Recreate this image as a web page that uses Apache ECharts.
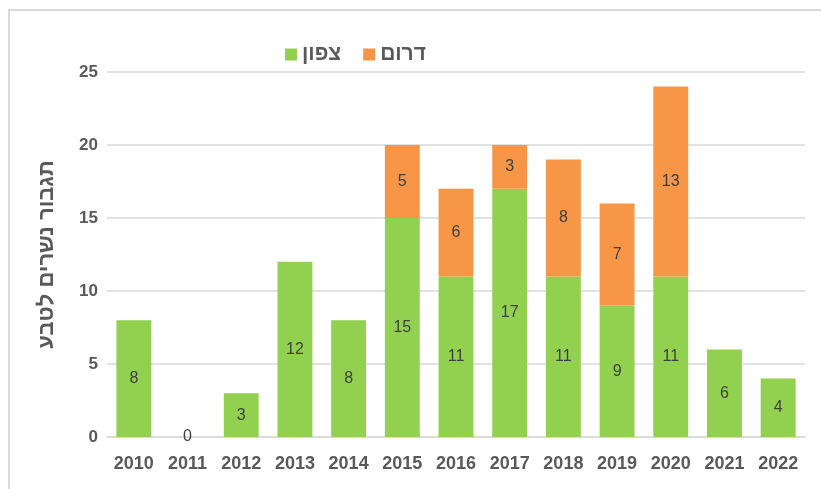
<!DOCTYPE html>
<html>
<head>
<meta charset="utf-8">
<script src="https://cdn.jsdelivr.net/npm/echarts@6/dist/echarts.min.js"></script>
<style>
  html, body { margin: 0; padding: 0; background: #fff; }
  #frame { position: absolute; left: 8px; top: 9px; width: 813px; height: 480px;
           border-top: 2px solid #d9d9d9; border-left: 2px solid #d9d9d9; }
  #chart { position: absolute; left: 0; top: 0; width: 821px; height: 489px; }
</style>
</head>
<body>
<div id="frame"></div>
<div id="chart"></div>
<script>
var years = ["2010", "2011", "2012", "2013", "2014", "2015", "2016", "2017", "2018", "2019", "2020", "2021", "2022"];
var north = [8, 0, 3, 12, 8, 15, 11, 17, 11, 9, 11, 6, 4];
var south = [null, null, null, null, null, 5, 6, 3, 8, 7, 13, null, null];

var myChart = echarts.init(document.getElementById("chart"));
var font = "'Liberation Sans', Arial, sans-serif";

var labelStyle = {
  show: true,
  position: "inside",
  color: "#404040",
  fontSize: 16,
  fontFamily: font,
};

var option = {
  animation: false,
  legend: {
    top: 39,
    left: 280,
    icon: "rect",
    itemWidth: 12,
    itemHeight: 12,
    itemGap: 22,
    textStyle: { color: "#595959", fontSize: 21, fontWeight: "bold", fontFamily: font },
    data: ["צפון", "דרום"],
  },
  grid: { left: 107, right: 16, top: 72, bottom: 52 },
  xAxis: {
    type: "category",
    data: years,
    axisTick: { show: false },
    axisLine: { lineStyle: { color: "#d9d9d9", width: 1.5 } },
    axisLabel: { color: "#595959", fontSize: 18, fontWeight: "bold", fontFamily: font, margin: 18 },
  },
  yAxis: {
    type: "value",
    min: 0,
    max: 25,
    interval: 5,
    name: "תגבור נשרים לטבע",
    nameLocation: "middle",
    nameGap: 49,
    nameTextStyle: { color: "#595959", fontSize: 22, fontWeight: "bold", fontFamily: font },
    axisLabel: { color: "#595959", fontSize: 17, fontWeight: "bold", fontFamily: font, margin: 9 },
    splitLine: { lineStyle: { color: "#d9d9d9", width: 1.5 } },
  },
  series: [
    {
      name: "צפון",
      type: "bar",
      stack: "total",
      data: north,
      barWidth: "65%",
      itemStyle: { color: "#92D050" },
      label: labelStyle,
    },
    {
      name: "דרום",
      type: "bar",
      stack: "total",
      data: south,
      barWidth: "65%",
      itemStyle: { color: "#F79646" },
      label: labelStyle,
    },
  ],
};

myChart.setOption(option);
</script>
</body>
</html>
